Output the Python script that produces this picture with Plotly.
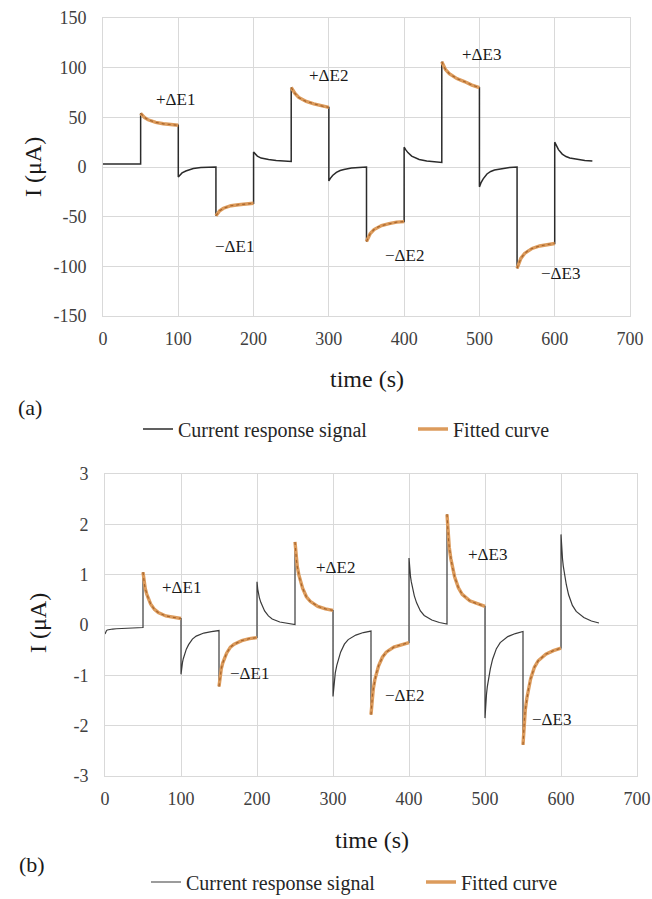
import plotly.graph_objects as go

# ---- chronoamperometry data: 13 consecutive 50 s steps, 0-650 s ----
STEP_S = 50

# (a) sample times inside each step (s after the step) and currents (µA)
OFFSETS_A = [0, 2, 5, 10, 15, 20, 30, 40, 50]
STEPS_A = [
    [3, 3, 3, 3, 3, 3, 3, 3, 3],
    [54, 52, 50, 47.5, 46, 45, 43.5, 42.5, 42],
    [-10, -8, -6, -4, -2.5, -1.5, -0.5, 0, 0],
    [-49, -46.5, -44, -41.5, -40, -39, -38, -37, -36.5],
    [15, 13, 11, 9, 8, 7.5, 6.5, 6, 5.5],
    [80, 77, 74, 70, 67.5, 66, 63.5, 61.5, 60],
    [-14, -11.5, -8.5, -5.5, -3.5, -2.5, -1, -0.5, 0],
    [-75, -71, -67, -63, -60.5, -59, -57, -55.5, -55],
    [20, 17.5, 14.5, 11, 9, 7.5, 6, 5, 4.5],
    [106, 102, 98, 94, 91.5, 89, 86, 82.5, 80],
    [-20, -16, -12, -7, -4.5, -3, -1.5, -0.5, 0],
    [-102, -97, -92, -87, -84, -82, -79.5, -78, -77],
    [25, 21.5, 17.5, 13, 10.5, 9, 7.5, 6.5, 6],
]

# (b) sample times inside each step (s after the step) and currents (µA)
OFFSETS_B = [0, 1, 2, 3, 5, 7, 10, 15, 20, 30, 40, 50]
STEPS_B = [
    [-0.18, -0.13, -0.11, -0.10, -0.09, -0.085, -0.08, -0.075, -0.07, -0.065, -0.06, -0.05],
    [1.05, 0.88, 0.79, 0.72, 0.61, 0.53, 0.42, 0.31, 0.25, 0.18, 0.15, 0.13],
    [-0.98, -0.82, -0.74, -0.67, -0.56, -0.48, -0.39, -0.28, -0.22, -0.16, -0.13, -0.11],
    [-1.22, -1.05, -0.95, -0.87, -0.75, -0.67, -0.56, -0.44, -0.38, -0.31, -0.27, -0.25],
    [0.86, 0.71, 0.62, 0.55, 0.45, 0.38, 0.28, 0.18, 0.12, 0.06, 0.03, 0.01],
    [1.65, 1.40, 1.27, 1.16, 1.00, 0.87, 0.73, 0.56, 0.47, 0.37, 0.32, 0.29],
    [-1.42, -1.19, -1.06, -0.95, -0.80, -0.68, -0.54, -0.38, -0.29, -0.20, -0.15, -0.12],
    [-1.78, -1.52, -1.38, -1.27, -1.09, -0.96, -0.81, -0.64, -0.54, -0.44, -0.39, -0.35],
    [1.33, 1.09, 0.96, 0.86, 0.70, 0.58, 0.44, 0.28, 0.19, 0.10, 0.05, 0.02],
    [2.20, 1.87, 1.69, 1.54, 1.32, 1.16, 0.96, 0.74, 0.61, 0.48, 0.42, 0.37],
    [-1.85, -1.54, -1.37, -1.23, -1.02, -0.87, -0.68, -0.47, -0.35, -0.23, -0.17, -0.13],
    [-2.38, -2.03, -1.84, -1.69, -1.46, -1.29, -1.07, -0.84, -0.71, -0.58, -0.51, -0.46],
    [1.80, 1.48, 1.31, 1.17, 0.96, 0.80, 0.60, 0.39, 0.27, 0.15, 0.08, 0.04],
]

# steps that carry a fitted curve (±ΔE1, ±ΔE2, ±ΔE3)
FITTED_STEPS = [1, 3, 5, 7, 9, 11]

# step labels: (text, time s, current µA)
LABELS_A = [("+ΔE1", 96, 68), ("+ΔE2", 299, 92), ("+ΔE3", 503, 113),
            ("−ΔE1", 174, -80), ("−ΔE2", 400, -89), ("−ΔE3", 608, -107)]
LABELS_B = [("+ΔE1", 101, 0.75), ("+ΔE2", 303, 1.14), ("+ΔE3", 503, 1.41),
            ("−ΔE1", 190, -0.96), ("−ΔE2", 394, -1.41), ("−ΔE3", 587, -1.88)]

X_TICKS = [0, 100, 200, 300, 400, 500, 600, 700]
Y_TICKS_A = [-150, -100, -50, 0, 50, 100, 150]
Y_TICKS_B = [-3, -2, -1, 0, 1, 2, 3]

W, H = 652, 899
SERIF = '"Liberation Serif", "Times New Roman", Times, serif'
ORANGE = "#DC9B5C"
BROWN = "#A8652C"


def signal_xy(offsets, steps):
    xs, ys = [], []
    for k, vals in enumerate(steps):
        xs += [k * STEP_S + o for o in offsets]
        ys += vals
    return xs, ys


def fitted_xy(offsets, steps):
    xs, ys = [], []
    for k in FITTED_STEPS:
        xs += [k * STEP_S + o for o in offsets] + [None]
        ys += steps[k] + [None]
    return xs, ys


def px(x):
    return x / W


def py(y):
    return 1 - y / H


fig = go.Figure()

panels = [
    ("x", "y", "legend", OFFSETS_A, STEPS_A, "#2b2b2b", 1.5),
    ("x2", "y2", "legend2", OFFSETS_B, STEPS_B, "#3a3a3a", 1.2),
]
for xa, ya, lg, offs, steps, sig_col, sig_w in panels:
    sx, sy = signal_xy(offs, steps)
    fig.add_trace(go.Scatter(
        x=sx, y=sy, mode="lines", xaxis=xa, yaxis=ya, legend=lg,
        name="Current response signal",
        line=dict(color=sig_col, width=sig_w),
    ))
    fx, fy = fitted_xy(offs, steps)
    fig.add_trace(go.Scatter(
        x=fx, y=fy, mode="lines", xaxis=xa, yaxis=ya, legend=lg,
        name="Fitted curve", line=dict(color=ORANGE, width=3.4),
    ))
    # beaded texture on the fitted curve
    fig.add_trace(go.Scatter(
        x=fx, y=fy, mode="lines", xaxis=xa, yaxis=ya, showlegend=False,
        line=dict(color=BROWN, width=1.2, dash="dot"), hoverinfo="skip",
    ))

grid = "#d9d9d9"
tick_font = dict(family=SERIF, size=18, color="#404040")
common_x = dict(range=[0, 700], tickvals=X_TICKS, ticktext=[str(v) for v in X_TICKS],
                showgrid=True, gridcolor=grid, automargin=False,
                gridwidth=1, zeroline=False, showline=True, linecolor=grid,
                mirror=True, ticks="", tickfont=tick_font, ticklabelstandoff=6)
common_y = dict(showgrid=True, gridcolor=grid, gridwidth=1, zeroline=False,
                showline=True, linecolor=grid, mirror=True, ticks="", automargin=False,
                tickfont=tick_font, ticklabelstandoff=12)

annotations = []
for labels, xr, yr in [(LABELS_A, "x", "y"), (LABELS_B, "x2", "y2")]:
    for text, t, i in labels:
        annotations.append(dict(text=text, x=t, y=i, xref=xr, yref=yr,
                                showarrow=False, xanchor="center", yanchor="middle",
                                font=dict(family=SERIF, size=17, color="#1a1a1a")))

title_font = dict(family=SERIF, size=24, color="#1a1a1a")
for text, x, y, ang in [("I (μA)", 33, 167, -90), ("I (μA)", 38, 623, -90),
                        ("time (s)", 367, 379, 0), ("time (s)", 372, 840, 0)]:
    annotations.append(dict(text=text, x=px(x), y=py(y), xref="paper", yref="paper",
                            xanchor="center", yanchor="middle",
                            showarrow=False, textangle=ang, font=title_font))
for text, x, y in [("(a)", 30, 408), ("(b)", 32, 864)]:
    annotations.append(dict(text=text, x=px(x), y=py(y), xref="paper", yref="paper",
                            xanchor="center", yanchor="middle",
                            showarrow=False, font=dict(family=SERIF, size=22, color="#1a1a1a")))

legend_style = dict(orientation="h", xanchor="left", yanchor="middle",
                    font=dict(family=SERIF, size=20, color="#262626"),
                    bgcolor="rgba(0,0,0,0)", itemwidth=30, tracegroupgap=0,
                    entrywidth=230)

fig.update_layout(
    width=W, height=H, margin=dict(l=0, r=0, t=0, b=0, autoexpand=False),
    paper_bgcolor="white", plot_bgcolor="white",
    font=dict(family=SERIF),
    xaxis=dict(domain=[px(103), px(630)], anchor="y", **common_x),
    yaxis=dict(domain=[py(316), py(18)], anchor="x", range=[-150, 150],
               tickvals=Y_TICKS_A, ticktext=[str(v) for v in Y_TICKS_A], **common_y),
    xaxis2=dict(domain=[px(105), px(637)], anchor="y2", **common_x),
    yaxis2=dict(domain=[py(776), py(474)], anchor="x2", range=[-3, 3],
                tickvals=Y_TICKS_B, ticktext=[str(v) for v in Y_TICKS_B], **common_y),
    legend=dict(x=px(138), y=py(429), **legend_style),
    legend2=dict(x=px(146), y=py(882), **legend_style),
    annotations=annotations,
    showlegend=True,
)

fig.write_html("out.html")
